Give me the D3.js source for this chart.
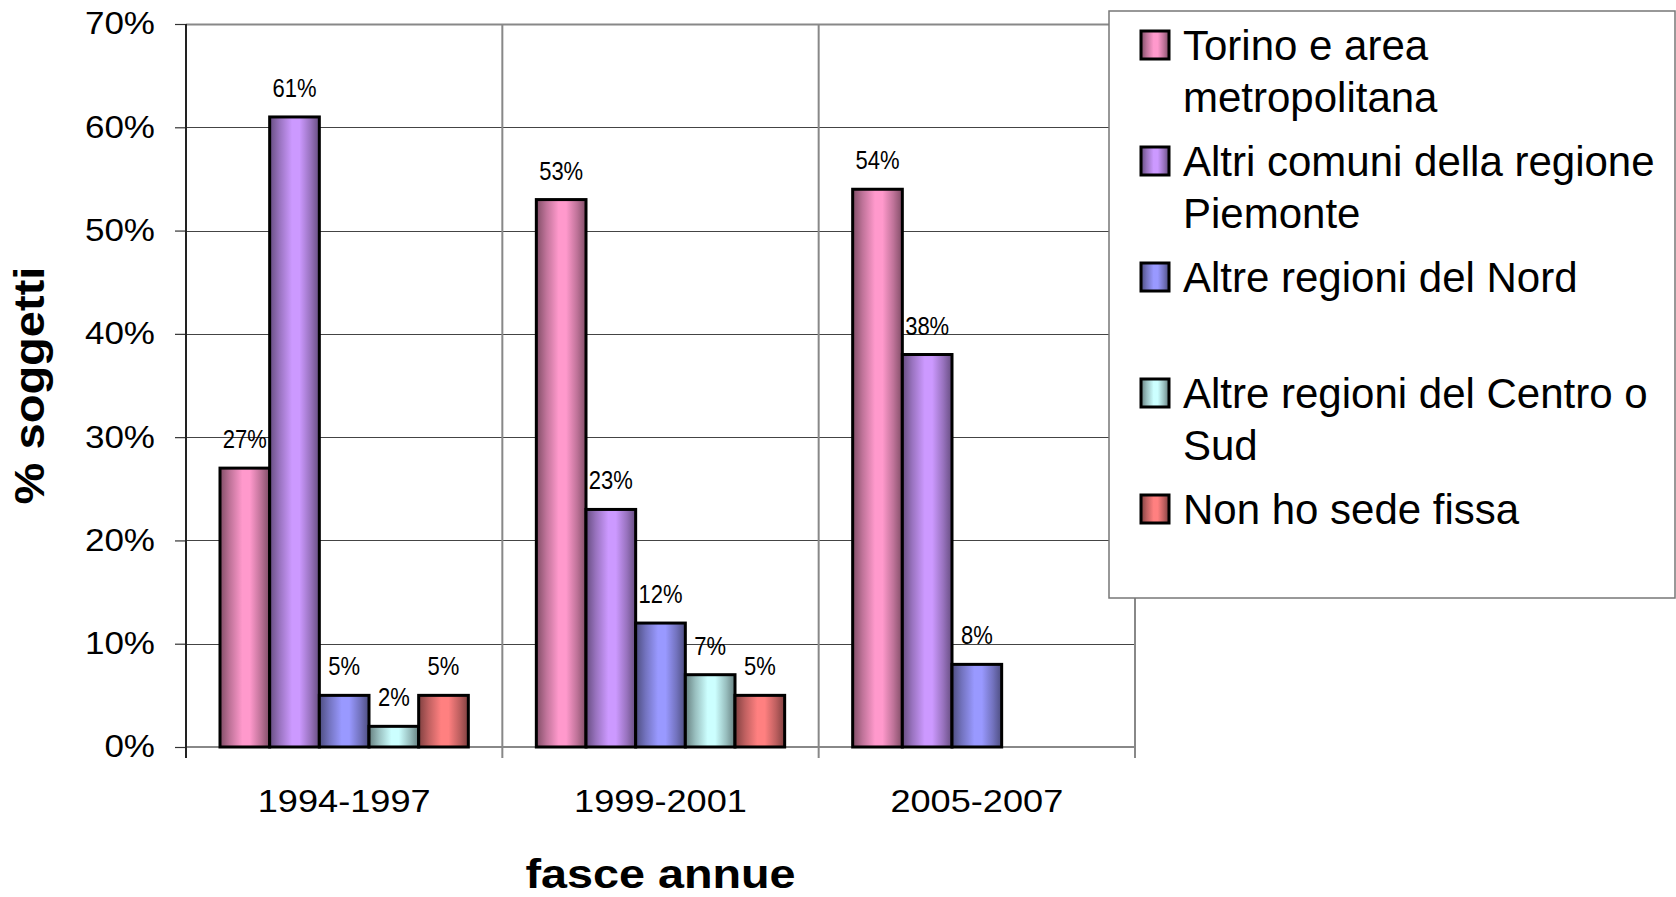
<!DOCTYPE html>
<html>
<head>
<meta charset="utf-8">
<script src="https://cdn.jsdelivr.net/npm/d3@7"></script>
<style>
  html, body { margin: 0; padding: 0; background: #fff; }
  svg { display: block; font-family: "Liberation Sans", Arial, sans-serif; }
</style>
</head>
<body>
<svg id="chart" width="1676" height="897"></svg>
<script>
// ---- data ----
const categories = ["1994-1997", "1999-2001", "2005-2007"];
const seriesNames = [
  "Torino e area metropolitana",
  "Altri comuni della regione Piemonte",
  "Altre regioni del Nord",
  "Altre regioni del Centro o Sud",
  "Non ho sede fissa"
];
const legendLines = [
  ["Torino e area", "metropolitana"],
  ["Altri comuni della regione", "Piemonte"],
  ["Altre regioni del Nord"],
  ["Altre regioni del Centro o", "Sud"],
  ["Non ho sede fissa"]
];
const torino      = [0.27, 0.53, 0.54];
const altriComuni = [0.61, 0.23, 0.38];
const nord        = [0.05, 0.12, 0.08];
const centroSud   = [0.02, 0.07, null];
const nonSede     = [0.05, 0.05, null];
const seriesValues = [torino, altriComuni, nord, centroSud, nonSede];
const seriesColors = ["#FF99CC", "#CC99FF", "#9999FF", "#CCFFFF", "#FF8080"];
const yTicks = [0, 0.1, 0.2, 0.3, 0.4, 0.5, 0.6, 0.7];
const yTitle = "% soggetti";
const xTitle = "fasce annue";

// ---- layout ----
const svg = d3.select("#chart");
const pLeft = 186, pRight = 1135, pTop = 24, pBottom = 747;

const y = d3.scaleLinear().domain([0, 0.7]).range([pBottom, pTop]);
const x0 = d3.scaleBand().domain(categories).range([pLeft, pRight]).padding(0);
const x1 = d3.scaleBand().domain(d3.range(seriesNames.length))
  .range([34, x0.bandwidth() - 34]).padding(0);

// gradients
const defs = svg.append("defs");
seriesColors.forEach((c, i) => {
  const g = defs.append("linearGradient").attr("id", "grad" + i)
    .attr("x1", "0%").attr("x2", "100%").attr("y1", "0%").attr("y2", "0%");
  const dark = d3.interpolateRgb(c, "#000")(0.5);
  const mid = d3.interpolateRgb(c, "#000")(0.25);
  g.append("stop").attr("offset", "0%").attr("stop-color", dark);
  g.append("stop").attr("offset", "20%").attr("stop-color", mid);
  g.append("stop").attr("offset", "45%").attr("stop-color", c);
  g.append("stop").attr("offset", "60%").attr("stop-color", c);
  g.append("stop").attr("offset", "82%").attr("stop-color", mid);
  g.append("stop").attr("offset", "100%").attr("stop-color", dark);
});

// gridlines
svg.append("g").selectAll("line").data(yTicks.slice(1)).join("line")
  .attr("x1", pLeft).attr("x2", pRight)
  .attr("y1", d => Math.round(y(d)) + 0.5).attr("y2", d => Math.round(y(d)) + 0.5)
  .attr("stroke", d => d === 0.7 ? "#888" : "#444")
  .attr("stroke-width", d => d === 0.7 ? 2 : 1.2);

// category dividers (extend below axis as ticks)
const dividers = categories.slice(1).map(c => x0(c)).concat([pRight]);
svg.append("g").selectAll("line").data(dividers).join("line")
  .attr("x1", d => d).attr("x2", d => d)
  .attr("y1", pTop).attr("y2", pBottom + 11)
  .attr("stroke", "#888").attr("stroke-width", 2);

// x axis line
svg.append("line").attr("x1", pLeft).attr("x2", pRight)
  .attr("y1", pBottom).attr("y2", pBottom)
  .attr("stroke", "#888").attr("stroke-width", 2);

// y axis
const yAxis = d3.axisLeft(y).tickValues(yTicks).tickFormat(d3.format(".0%"))
  .tickSizeInner(11).tickSizeOuter(0).tickPadding(20);
const gy = svg.append("g").attr("transform", `translate(${pLeft},0)`).call(yAxis);
gy.select(".domain").remove();
gy.selectAll(".tick line").attr("stroke", "#333").attr("stroke-width", 1.2);
gy.selectAll(".tick text")
  .attr("x", null)
  .attr("transform", "translate(-31,0) scale(1.13,1)")
  .attr("font-size", 31).attr("fill", "#000")
  .attr("font-family", "'Liberation Sans', Arial, sans-serif");
svg.append("line").attr("x1", pLeft).attr("x2", pLeft)
  .attr("y1", pTop).attr("y2", pBottom + 11)
  .attr("stroke", "#222").attr("stroke-width", 2);

// category labels
svg.append("g").selectAll("text").data(categories).join("text")
  .attr("transform", d => `translate(${x0(d) + x0.bandwidth() / 2},812) scale(1.13,1)`)
  .attr("text-anchor", "middle").attr("font-size", 32).attr("fill", "#000")
  .text(d => d);

// bars
const barData = [];
categories.forEach((c, ci) => {
  seriesValues.forEach((vals, si) => {
    if (vals[ci] != null) barData.push({ c, si, v: vals[ci] });
  });
});
svg.append("g").selectAll("rect").data(barData).join("rect")
  .attr("x", d => x0(d.c) + x1(d.si))
  .attr("width", x1.bandwidth())
  .attr("y", d => y(d.v))
  .attr("height", d => y(0) - y(d.v))
  .attr("fill", d => `url(#grad${d.si})`)
  .attr("stroke", "#000").attr("stroke-width", 3);

// value labels
svg.append("g").selectAll("text").data(barData).join("text")
  .attr("transform", d => `translate(${x0(d.c) + x1(d.si) + x1.bandwidth() / 2},${y(d.v) - 20}) scale(0.88,1)`)
  .attr("text-anchor", "middle").attr("font-size", 25).attr("fill", "#000")
  .text(d => d3.format(".0%")(d.v));

// axis titles
svg.append("text")
  .attr("transform", `translate(44,${(pTop + pBottom) / 2}) rotate(-90) scale(1.12,1)`)
  .attr("text-anchor", "middle").attr("font-size", 42).attr("font-weight", "bold")
  .text(yTitle);
svg.append("text")
  .attr("transform", `translate(${(pLeft + pRight) / 2},888) scale(1.14,1)`)
  .attr("text-anchor", "middle").attr("font-size", 41).attr("font-weight", "bold")
  .text(xTitle);

// legend
const lg = svg.append("g");
lg.append("rect").attr("x", 1109).attr("y", 11).attr("width", 566).attr("height", 587)
  .attr("fill", "#fff").attr("stroke", "#777").attr("stroke-width", 1.5);
legendLines.forEach((lines, i) => {
  const cy = 45 + i * 116;
  lg.append("rect").attr("x", 1141).attr("y", cy - 14).attr("width", 28).attr("height", 28)
    .attr("fill", `url(#grad${i})`).attr("stroke", "#000").attr("stroke-width", 3);
  lines.forEach((t, li) => {
    lg.append("text").attr("x", 1183).attr("y", cy + 15 + li * 52)
      .attr("font-size", 42).attr("fill", "#000").text(t);
  });
});
</script>
</body>
</html>
